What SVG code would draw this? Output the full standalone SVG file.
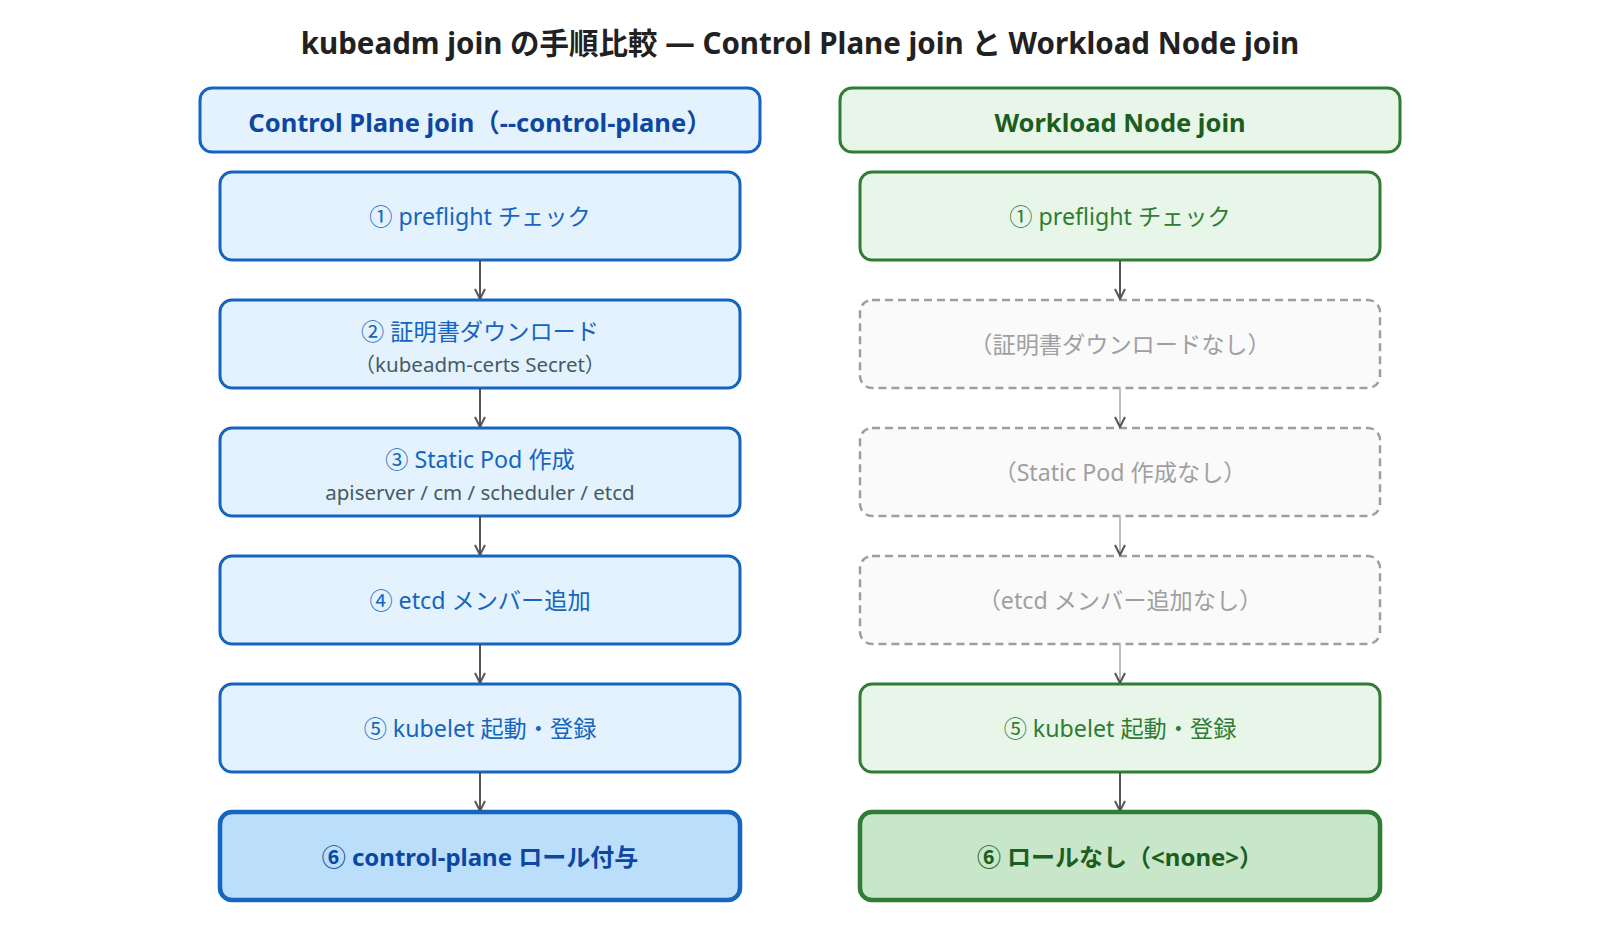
<svg xmlns="http://www.w3.org/2000/svg" width="1600" height="932" viewBox="0 0 1600 932">
<defs>
<style>
text{font-family:"Noto Sans","Noto Sans CJK JP",sans-serif;text-anchor:middle;dominant-baseline:central}
.title{font-size:29.5px;font-weight:700;fill:#212121}
.hdr-cp rect{fill:#e3f2fd;stroke:#1565c0;stroke-width:3}
.hdr-cp text{font-size:25.5px;font-weight:700;fill:#0d47a1}
.hdr-wn rect{fill:#e8f5e9;stroke:#2e7d32;stroke-width:3}
.hdr-wn text{font-size:25.5px;font-weight:700;fill:#1b5e20}
.cp rect{fill:#e3f2fd;stroke:#1565c0;stroke-width:3}
.cp text{font-size:23.2px;fill:#1565c0}
.cp text.sub{font-size:20.5px;fill:#455a64}
.cpf rect{fill:#bbdefb;stroke:#1565c0;stroke-width:4.5}
.cpf text{font-size:24px;font-weight:700;fill:#0d47a1}
.wn rect{fill:#e8f5e9;stroke:#2e7d32;stroke-width:3}
.wn text{font-size:23.2px;fill:#2e7d32}
.wnf rect{fill:#c8e6c9;stroke:#2e7d32;stroke-width:4.5}
.wnf text{font-size:24px;font-weight:700;fill:#1b5e20}
.skip rect{fill:#fafafa;stroke:#9e9e9e;stroke-width:2.5;stroke-dasharray:8 5}
.skip text{font-size:23.2px;fill:#a0a0a0}
.conn{stroke:#555;stroke-width:2;fill:none;marker-end:url(#arr)}
.conn.light{stroke:#bdbdbd}
</style>
<marker id="arr" viewBox="0 0 12 12" refX="11" refY="6" markerWidth="12" markerHeight="12" markerUnits="userSpaceOnUse" orient="auto">
<path d="M1,1 L11,6 L1,11" fill="none" stroke="#555" stroke-width="2"/>
</marker>
</defs>
<rect width="1600" height="932" fill="#ffffff"/>
<text class="title" x="800" y="42">kubeadm join の手順比較 — Control Plane join と Workload Node join</text>

<g id="hdr-cp" class="hdr-cp"><rect x="200" y="88" width="560" height="64" rx="12"/><text x="480" y="122">Control Plane join（--control-plane）</text></g>
<g id="hdr-wn" class="hdr-wn"><rect x="840" y="88" width="560" height="64" rx="12"/><text x="1120" y="122">Workload Node join</text></g>

<g id="cp1" class="cp"><rect x="220" y="172" width="520" height="88" rx="12"/><text x="480" y="216">① preflight チェック</text></g>
<g id="cp2" class="cp"><rect x="220" y="300" width="520" height="88" rx="12"/><text x="480" y="331">② 証明書ダウンロード</text><text class="sub" x="480" y="364">（kubeadm-certs Secret）</text></g>
<g id="cp3" class="cp"><rect x="220" y="428" width="520" height="88" rx="12"/><text x="480" y="459">③ Static Pod 作成</text><text class="sub" x="480" y="492">apiserver / cm / scheduler / etcd</text></g>
<g id="cp4" class="cp"><rect x="220" y="556" width="520" height="88" rx="12"/><text x="480" y="600">④ etcd メンバー追加</text></g>
<g id="cp5" class="cp"><rect x="220" y="684" width="520" height="88" rx="12"/><text x="480" y="728">⑤ kubelet 起動・登録</text></g>
<g id="cp6" class="cpf"><rect x="220" y="812" width="520" height="88" rx="12"/><text x="480" y="856">⑥ control-plane ロール付与</text></g>

<g id="wn1" class="wn"><rect x="860" y="172" width="520" height="88" rx="12"/><text x="1120" y="216">① preflight チェック</text></g>
<g id="wn2" class="skip"><rect x="860" y="300" width="520" height="88" rx="12"/><text x="1120" y="344">（証明書ダウンロードなし）</text></g>
<g id="wn3" class="skip"><rect x="860" y="428" width="520" height="88" rx="12"/><text x="1120" y="472">（Static Pod 作成なし）</text></g>
<g id="wn4" class="skip"><rect x="860" y="556" width="520" height="88" rx="12"/><text x="1120" y="600">（etcd メンバー追加なし）</text></g>
<g id="wn5" class="wn"><rect x="860" y="684" width="520" height="88" rx="12"/><text x="1120" y="728">⑤ kubelet 起動・登録</text></g>
<g id="wn6" class="wnf"><rect x="860" y="812" width="520" height="88" rx="12"/><text x="1120" y="856">⑥ ロールなし（&lt;none&gt;）</text></g>

<g id="connectors">
<line class="conn" x1="480" y1="260" x2="480" y2="299"/>
<line class="conn" x1="480" y1="388" x2="480" y2="427"/>
<line class="conn" x1="480" y1="516" x2="480" y2="555"/>
<line class="conn" x1="480" y1="644" x2="480" y2="683"/>
<line class="conn" x1="480" y1="772" x2="480" y2="811"/>
<line class="conn" x1="1120" y1="260" x2="1120" y2="299"/>
<line class="conn light" x1="1120" y1="388" x2="1120" y2="427"/>
<line class="conn light" x1="1120" y1="516" x2="1120" y2="555"/>
<line class="conn light" x1="1120" y1="644" x2="1120" y2="683"/>
<line class="conn" x1="1120" y1="772" x2="1120" y2="811"/>
</g>
</svg>
